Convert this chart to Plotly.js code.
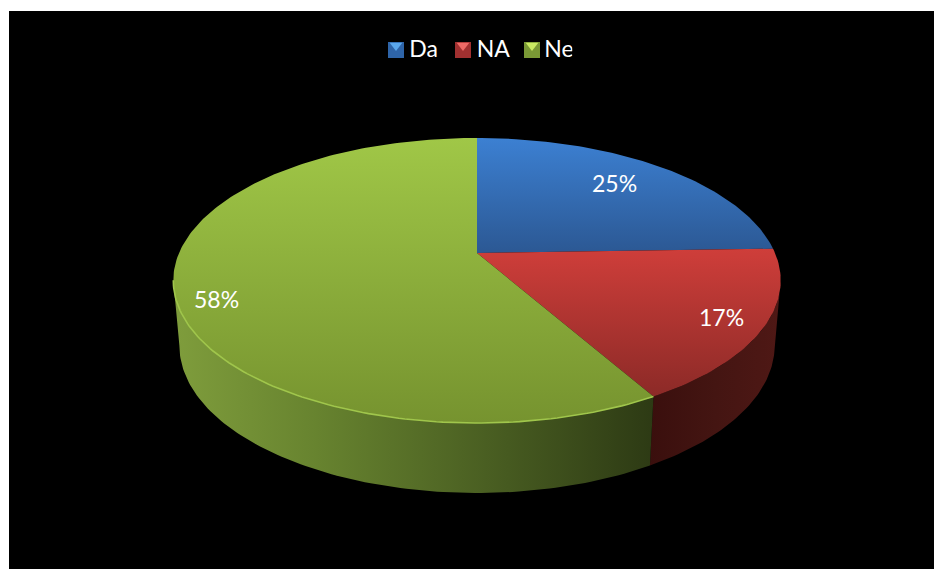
<!DOCTYPE html>
<html>
<head>
<meta charset="utf-8">
<script src="https://cdn.plot.ly/plotly-3.0.1.min.js"></script>
<style>html,body{margin:0;padding:0;background:#fff}#c{width:934px;height:569px}</style>
</head>
<body>
<div id="c"></div>
<script>
var categories = ["Da", "NA", "Ne"];
var percents = [24.5, 17.3, 58.2];
var labelX = [614, 721, 216];
var labelY = [183, 317, 299];
var topStops = [
  [[0, "#3c80d2"], [1, "#2c5995"]],
  [[0, "#cf3e3a"], [1, "#8c2a27"]],
  [[0, "#a0c747"], [1, "#76932f"]]
];
var topStart = [138, 248, 138];
var topStop = [250, 396, 423];
var wallStops = [
  null,
  [[0, "#3a0f0d"], [0.5, "#441512"], [1, "#4f1815"]],
  [[0, "#7f9d3c"], [0.3, "#67832f"], [0.65, "#4a5f22"], [1, "#2d3a14"]]
];
var swatchColors = ["#2e64a8", "#a03030", "#7a9935"];
var swatchLight = ["#5aa8ee", "#ee6a66", "#c9ea62"];
var swatchX = [396, 463, 532];
var swatchY = [50, 50, 50];

// Perspective projection of a tilted disc (pixel-valued axes)
var cx = 477, apexY = 253, RX = 298, persp = 0.193, RY = -88.4;
var silhouetteRight = 101, silhouetteLeft = 259;
function rim(deg) {
  var a = deg * Math.PI / 180, u = Math.sin(a), v = Math.cos(a), d = 1 + persp * v;
  return [cx + RX * u / d, (RY * v + apexY) / d];
}
function lower(p) { return [cx + (p[0] - cx) * 0.98, 345 + (p[1] - 280) * 1.035]; }
function arc(a0, a1) {
  var out = [], n = Math.max(2, Math.ceil(Math.abs(a1 - a0)));
  for (var i = 0; i <= n; i++) out.push(rim(a0 + (a1 - a0) * i / n));
  return out;
}

var traces = [], cum = 0, spans = [];
percents.forEach(function (p) { spans.push([cum * 3.6, (cum + p) * 3.6]); cum += p; });

// side walls
spans.forEach(function (s, i) {
  if (!wallStops[i]) return;
  var a0 = Math.max(s[0], silhouetteRight), a1 = Math.min(s[1], silhouetteLeft);
  var t = arc(a0, a1), b = t.map(lower).reverse(), pts = t.concat(b);
  pts.push(t[0]);
  traces.push({
    type: "scatter", mode: "lines", showlegend: false, hoverinfo: "skip",
    x: pts.map(function (q) { return q[0]; }), y: pts.map(function (q) { return q[1]; }),
    line: { width: 0 }, fill: "toself",
    fillcolor: swatchColors[i],
    fillgradient: { type: "horizontal", colorscale: wallStops[i] }
  });
});
// top faces
spans.forEach(function (s, i) {
  var pts = [[cx, apexY]].concat(arc(s[0], s[1]));
  pts.push([cx, apexY]);
  traces.push({
    type: "scatter", mode: "lines", showlegend: false, hoverinfo: "skip",
    x: pts.map(function (q) { return q[0]; }), y: pts.map(function (q) { return q[1]; }),
    line: { width: 0 }, fill: "toself",
    fillcolor: swatchColors[i],
    fillgradient: { type: "vertical", colorscale: topStops[i], start: topStart[i], stop: topStop[i] }
  });
});
// highlighted rim on the front of the green slice
var hl = arc(spans[2][0], silhouetteLeft);
traces.push({
  type: "scatter", mode: "lines", showlegend: false, hoverinfo: "skip",
  x: hl.map(function (q) { return q[0]; }), y: hl.map(function (q) { return q[1]; }),
  line: { width: 1.6, color: "#a0c64c" }
});
// legend entries (text from the native legend; the swatches are drawn just below)
categories.forEach(function (c, i) {
  traces.push({
    type: "scatter", mode: "markers", name: c, x: [null], y: [null],
    marker: { symbol: "square", size: 1, color: "rgba(0,0,0,0)" }, hoverinfo: "skip"
  });
});
traces.push({
  type: "scatter", mode: "markers", showlegend: false, hoverinfo: "skip",
  x: swatchX, y: swatchY,
  marker: { symbol: "square", size: 16, color: swatchColors, line: { width: 0 } }
});
traces.push({
  type: "scatter", mode: "markers", showlegend: false, hoverinfo: "skip",
  x: swatchX, y: swatchY.map(function (v) { return v - 4.5; }),
  marker: { symbol: "triangle-down", size: 11, color: swatchLight, line: { width: 0 } }
});

var annotations = categories.map(function (c, i) {
  return {
    x: labelX[i], y: labelY[i], xref: "x", yref: "y", showarrow: false,
    text: Math.round(percents[i]) + "%", font: { family: "Lato, 'Open Sans', sans-serif", size: 23, color: "#ffffff" }
  };
});

Plotly.newPlot("c", traces, {
  width: 934, height: 569,
  margin: { l: 9, t: 11, r: 0, b: 0, pad: 0 },
  paper_bgcolor: "#ffffff", plot_bgcolor: "#000000",
  xaxis: { range: [9, 934], visible: false, fixedrange: true },
  yaxis: { range: [569, 11], visible: false, fixedrange: true },
  showlegend: true,
  legend: {
    orientation: "h", x: 0.3895, xanchor: "left", y: 0.9717, yanchor: "top",
    bgcolor: "rgba(0,0,0,0)", font: { family: "Lato, 'Open Sans', sans-serif", size: 23, color: "#ffffff" },
    itemwidth: 30, entrywidth: 22.5, entrywidthmode: "pixels", tracegroupgap: 0
  },
  annotations: annotations,
  hovermode: false
}, { displayModeBar: false, staticPlot: true });
</script>
</body>
</html>
